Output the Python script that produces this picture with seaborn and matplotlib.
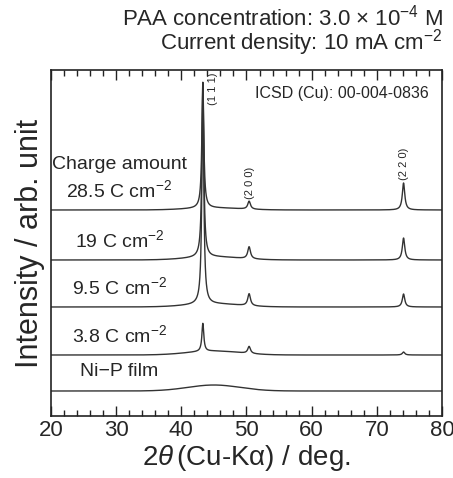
"""
xrd_stack.py

Stacked XRD patterns of Cu films on Ni-P for several charge amounts.
"""
import numpy as np
import pandas as pd
import seaborn as sns
import matplotlib.pyplot as plt
from matplotlib.ticker import MultipleLocator

# sample labels, bottom to top
samples = ['Ni\u2212P film', '3.8 C cm$^{\u22122}$', '9.5 C cm$^{\u22122}$',
           '19 C cm$^{\u22122}$', '28.5 C cm$^{\u22122}$']
# vertical offset of each pattern (arb. unit)
offsets = [25, 61, 109, 156, 206]
# Cu reflections
hkl = ['(1 1 1)', '(2 0 0)', '(2 2 0)']
peak_pos = [43.3, 50.4, 74.1]
peak_fwhm = [0.35, 0.5, 0.45]
h111 = [0, 28, 215, 175, 125]
h200 = [0, 7, 12, 12, 8]
h220 = [0, 3, 13, 22, 27]
# broad amorphous Ni-P hump
hump_pos = 45.0
hump_height = [6, 4, 3, 3, 2]


def lorentz(x, x0, fwhm):
    g = fwhm / 2
    return g ** 2 / ((x - x0) ** 2 + g ** 2)


def build_data() -> pd.DataFrame:
    tt = np.arange(20, 80.01, 0.02)
    frames = []
    for i, name in enumerate(samples):
        y = offsets[i] + hump_height[i] * np.exp(-0.5 * ((tt - hump_pos) / 4.0) ** 2)
        for h, x0, w in zip([h111[i], h200[i], h220[i]], peak_pos, peak_fwhm):
            y = y + h * lorentz(tt, x0, w)
        frames.append(pd.DataFrame({'2theta': tt, 'I': y, 'sample': name}))
    return pd.concat(frames, ignore_index=True)


def main() -> None:
    data = build_data()

    sns.set_style('white')
    plt.rcParams['font.family'] = ['Liberation Sans', 'DejaVu Sans']
    plt.rcParams['mathtext.fontset'] = 'custom'
    plt.rcParams['mathtext.rm'] = 'Liberation Sans'
    plt.rcParams['mathtext.it'] = 'Liberation Sans:italic'

    fig = plt.figure(figsize=(4.53, 4.78), dpi=100)
    ax = fig.add_axes([0.1126, 0.1297, 0.8631, 0.7239])

    for name in samples:
        sub = data[data['sample'] == name]
        sns.lineplot(data=sub, x='2theta', y='I', color='#333333', lw=1.0,
                     ax=ax, legend=False)

    ax.set_xlim(20, 80)
    ax.set_ylim(0, 346)
    ax.set_yticks([])
    ax.xaxis.set_major_locator(MultipleLocator(10))
    ax.xaxis.set_minor_locator(MultipleLocator(2))
    ax.tick_params(axis='x', which='both', direction='in', top=True, bottom=True,
                   labelsize=16, color='#222222', pad=3)
    ax.tick_params(axis='x', which='major', length=7, width=1)
    ax.tick_params(axis='x', which='minor', length=4, width=1)
    for sp in ax.spines.values():
        sp.set_color('#222222')
        sp.set_linewidth(1.2)

    ax.set_xlabel('2$\\theta\\,$(Cu-K\u03b1) / deg.', fontsize=20, labelpad=1)
    ax.set_ylabel('Intensity / arb. unit', fontsize=22, labelpad=4)

    # sample labels
    for i, name in enumerate(samples):
        ax.text(30.5, offsets[i] + 20, name, fontsize=14, ha='center', va='center')
    ax.text(30.5, offsets[-1] + 45, 'Charge amount', fontsize=14,
            ha='center', va='center')

    # hkl labels
    ax.text(peak_pos[0] + 1.55, 327, hkl[0], rotation=90, fontsize=8,
            ha='center', va='center')
    ax.text(peak_pos[1] + 0.1, 233, hkl[1], rotation=90, fontsize=8,
            ha='center', va='center')
    ax.text(peak_pos[2] + 0.1, 252, hkl[2], rotation=90, fontsize=8,
            ha='center', va='center')
    ax.text(0.965, 0.955, 'ICSD (Cu): 00-004-0836', transform=ax.transAxes,
            fontsize=11.5, ha='right', va='top')

    fig.text(0.978, 0.964, 'PAA concentration: 3.0 \u00d7 10$^{\u22124}$ M',
             fontsize=16, ha='right', va='center')
    fig.text(0.978, 0.910, 'Current density: 10 mA cm$^{\u22122}$',
             fontsize=16, ha='right', va='center')

    fig.savefig('out.png', dpi=100)


if __name__ == "__main__":
    main()
